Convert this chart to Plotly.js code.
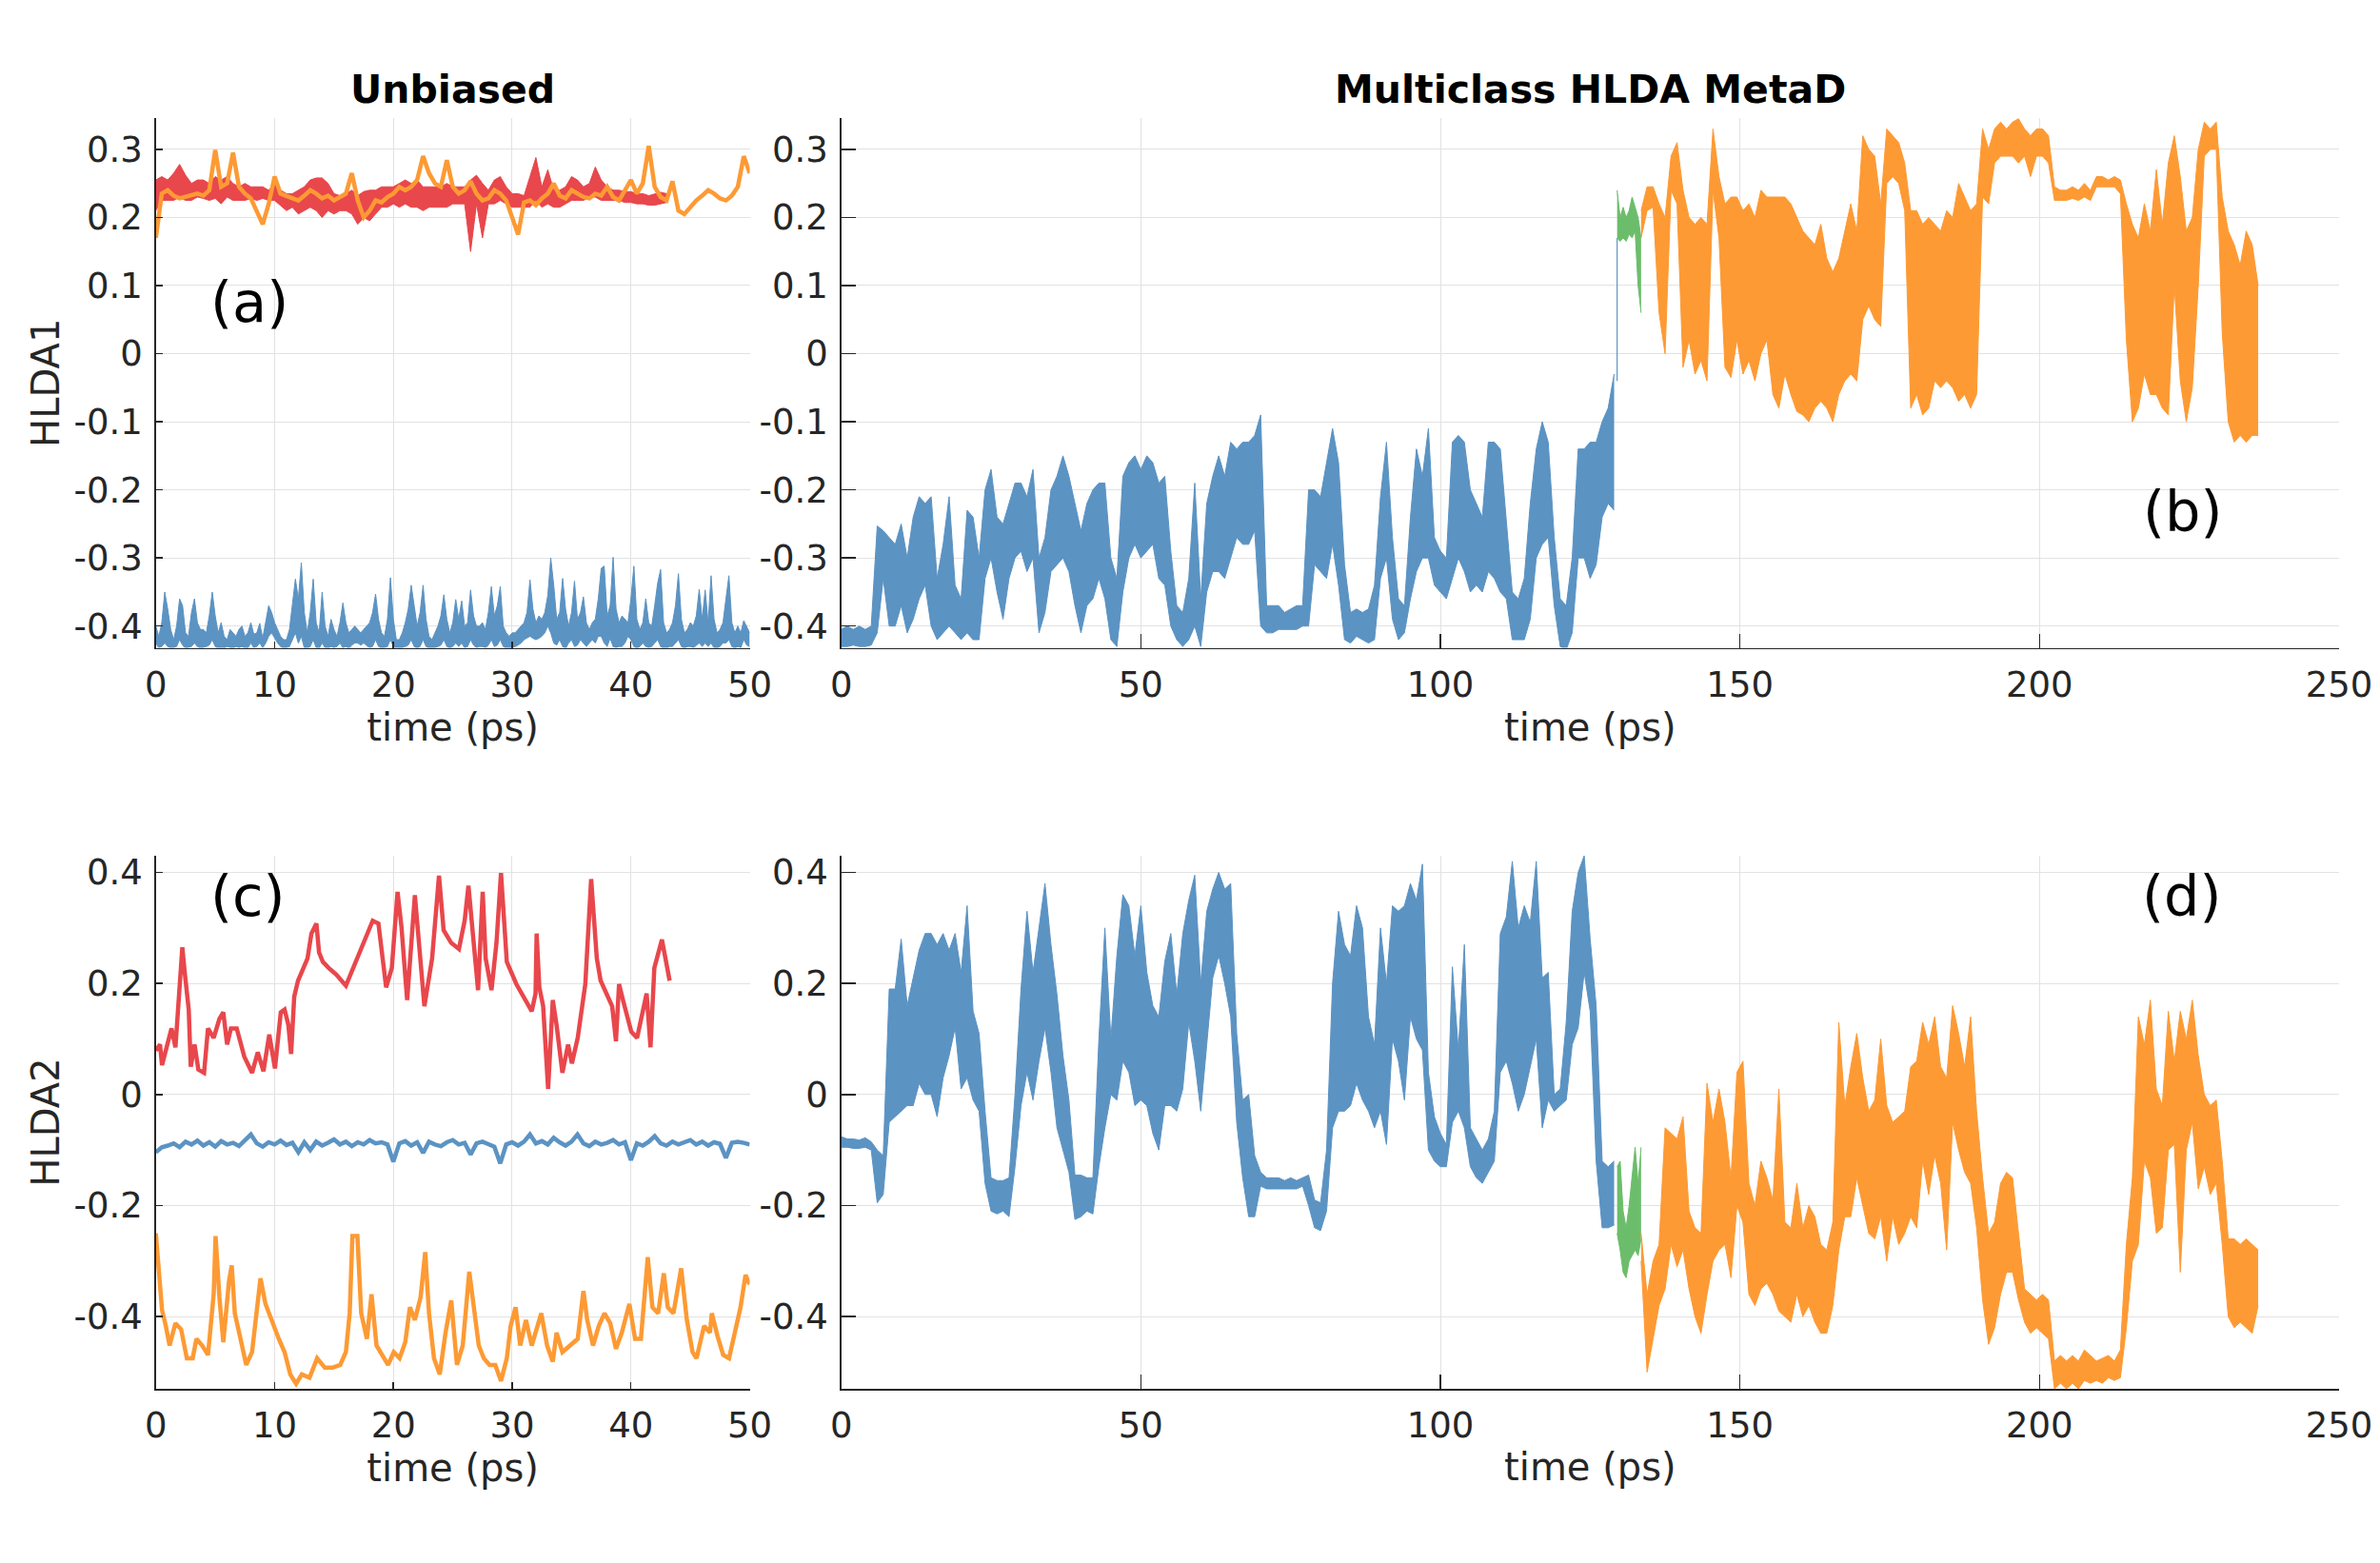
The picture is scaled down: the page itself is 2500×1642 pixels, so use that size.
<!DOCTYPE html>
<html>
<head>
<meta charset="utf-8">
<script src="https://cdn.plot.ly/plotly-3.0.1.min.js"></script>
<style>html,body{margin:0;padding:0;background:#fff}#chart{width:2500px;height:1642px}</style>
</head>
<body>
<div id="chart"></div>
<script>
// ---------------- DATA ----------------
// Panel (a): Unbiased, HLDA1
const aBlueStep = 0.25; // ps
const aBlueHi = [-0.400,-0.415,-0.395,-0.350,-0.375,-0.405,-0.420,-0.400,-0.360,-0.370,
 -0.410,-0.415,-0.380,-0.360,-0.395,-0.405,-0.405,-0.410,-0.385,-0.350,
 -0.385,-0.410,-0.395,-0.415,-0.420,-0.405,-0.410,-0.415,-0.405,-0.400,
 -0.415,-0.410,-0.395,-0.412,-0.410,-0.396,-0.418,-0.395,-0.370,-0.380,
 -0.395,-0.405,-0.415,-0.420,-0.420,-0.405,-0.370,-0.331,-0.360,-0.307,
 -0.380,-0.410,-0.380,-0.331,-0.395,-0.410,-0.350,-0.400,-0.415,-0.390,
 -0.405,-0.415,-0.395,-0.366,-0.395,-0.410,-0.405,-0.400,-0.405,-0.410,
 -0.405,-0.400,-0.395,-0.380,-0.353,-0.390,-0.410,-0.415,-0.390,-0.329,
 -0.390,-0.420,-0.420,-0.410,-0.395,-0.375,-0.340,-0.370,-0.400,-0.380,
 -0.340,-0.390,-0.415,-0.420,-0.410,-0.400,-0.385,-0.354,-0.390,-0.410,
 -0.395,-0.361,-0.390,-0.363,-0.400,-0.395,-0.347,-0.385,-0.400,-0.400,
 -0.395,-0.405,-0.380,-0.342,-0.385,-0.370,-0.342,-0.400,-0.410,-0.415,
 -0.410,-0.410,-0.405,-0.400,-0.395,-0.380,-0.332,-0.375,-0.395,-0.385,
 -0.390,-0.380,-0.355,-0.300,-0.340,-0.390,-0.380,-0.330,-0.375,-0.400,
 -0.380,-0.334,-0.390,-0.380,-0.357,-0.395,-0.405,-0.395,-0.390,-0.360,
 -0.315,-0.312,-0.385,-0.370,-0.299,-0.375,-0.395,-0.385,-0.390,-0.395,
 -0.360,-0.312,-0.390,-0.405,-0.395,-0.360,-0.395,-0.400,-0.370,-0.337,
 -0.317,-0.395,-0.410,-0.405,-0.395,-0.370,-0.323,-0.390,-0.410,-0.405,
 -0.395,-0.400,-0.385,-0.346,-0.390,-0.347,-0.395,-0.326,-0.390,-0.410,
 -0.405,-0.395,-0.360,-0.326,-0.395,-0.410,-0.400,-0.410,-0.392,-0.400,
 -0.410];
const aBlueLo = [-0.425,-0.432,-0.43,-0.425,-0.43,-0.433,-0.432,-0.43,-0.42,-0.428,-0.433,-0.432,-0.43,-0.425,-0.43,-0.433,
 -0.432,-0.43,-0.428,-0.42,-0.43,-0.433,-0.432,-0.433,-0.43,-0.432,-0.433,-0.43,-0.432,-0.43,-0.433,-0.432,
 -0.425,-0.432,-0.43,-0.425,-0.432,-0.425,-0.415,-0.41,-0.418,-0.425,-0.43,-0.433,-0.432,-0.43,-0.42,-0.41,
 -0.425,-0.415,-0.432,-0.433,-0.43,-0.42,-0.432,-0.433,-0.425,-0.432,-0.433,-0.43,-0.432,-0.43,-0.425,-0.432,
 -0.43,-0.433,-0.428,-0.425,-0.425,-0.428,-0.425,-0.428,-0.432,-0.43,-0.42,-0.43,-0.433,-0.432,-0.43,-0.42,
 -0.43,-0.433,-0.433,-0.432,-0.43,-0.428,-0.42,-0.43,-0.433,-0.43,-0.42,-0.43,-0.433,-0.433,-0.432,-0.43,
 -0.428,-0.42,-0.43,-0.433,-0.43,-0.425,-0.43,-0.425,-0.432,-0.43,-0.42,-0.428,-0.432,-0.43,-0.43,-0.432,
 -0.428,-0.42,-0.43,-0.428,-0.42,-0.43,-0.433,-0.433,-0.432,-0.43,-0.428,-0.425,-0.42,-0.418,-0.415,-0.418,
 -0.42,-0.418,-0.415,-0.41,-0.40,-0.41,-0.425,-0.428,-0.42,-0.43,-0.433,-0.425,-0.42,-0.43,-0.428,-0.42,
 -0.425,-0.43,-0.425,-0.42,-0.425,-0.415,-0.415,-0.425,-0.43,-0.418,-0.43,-0.432,-0.43,-0.43,-0.425,-0.415,
 -0.42,-0.43,-0.433,-0.43,-0.425,-0.43,-0.432,-0.43,-0.425,-0.42,-0.43,-0.433,-0.433,-0.43,-0.43,-0.425,
 -0.42,-0.43,-0.433,-0.43,-0.43,-0.432,-0.428,-0.425,-0.43,-0.425,-0.43,-0.425,-0.432,-0.433,-0.43,-0.425,
 -0.425,-0.42,-0.43,-0.433,-0.43,-0.432,-0.42,-0.428,-0.43];

const aRedStep = 0.5;
const aRedHi = [0.255,0.26,0.255,0.265,0.278,0.262,0.25,0.255,0.255,0.25,
 0.26,0.255,0.26,0.25,0.245,0.25,0.245,0.245,0.245,0.24,
 0.25,0.24,0.235,0.235,0.24,0.245,0.255,0.258,0.258,0.25,
 0.235,0.232,0.235,0.24,0.232,0.238,0.24,0.24,0.245,0.245,
 0.245,0.25,0.255,0.25,0.255,0.245,0.245,0.245,0.245,0.25,
 0.245,0.245,0.245,0.255,0.262,0.25,0.24,0.255,0.26,0.245,
 0.235,0.235,0.232,0.26,0.288,0.245,0.27,0.24,0.24,0.245,
 0.26,0.255,0.245,0.25,0.274,0.255,0.245,0.24,0.24,0.238,
 0.238,0.235,0.235,0.232,0.235,0.237,0.235];
const aRedLo = [0.21,0.225,0.225,0.225,0.23,0.225,0.225,0.23,0.228,0.225,
 0.228,0.22,0.23,0.225,0.225,0.225,0.228,0.225,0.228,0.225,
 0.225,0.218,0.21,0.215,0.205,0.21,0.215,0.21,0.2,0.21,
 0.205,0.21,0.21,0.205,0.19,0.2,0.195,0.205,0.215,0.215,
 0.22,0.215,0.22,0.215,0.215,0.21,0.215,0.215,0.215,0.215,
 0.22,0.22,0.22,0.15,0.22,0.17,0.22,0.22,0.225,0.22,
 0.215,0.215,0.215,0.215,0.225,0.215,0.22,0.215,0.215,0.22,
 0.225,0.225,0.225,0.23,0.23,0.225,0.225,0.225,0.225,0.222,
 0.222,0.22,0.22,0.218,0.218,0.22,0.222];

const aOrangeStep = 0.5;
const aOrange = [0.17,0.235,0.24,0.232,0.228,0.23,0.232,0.235,0.232,0.24,
 0.299,0.245,0.25,0.295,0.245,0.235,0.228,0.21,0.19,0.22,
 0.26,0.235,0.232,0.228,0.225,0.232,0.24,0.235,0.228,0.232,
 0.225,0.23,0.235,0.265,0.225,0.2,0.21,0.225,0.222,0.23,
 0.235,0.245,0.24,0.245,0.255,0.29,0.265,0.25,0.245,0.284,
 0.245,0.235,0.24,0.253,0.235,0.225,0.228,0.24,0.235,0.225,
 0.2,0.175,0.222,0.225,0.218,0.228,0.235,0.25,0.232,0.228,
 0.24,0.235,0.23,0.228,0.235,0.232,0.245,0.23,0.225,0.24,
 0.255,0.235,0.25,0.305,0.245,0.23,0.225,0.253,0.21,0.205,
 0.215,0.225,0.232,0.24,0.235,0.228,0.225,0.232,0.245,0.29,
 0.265];

// Panel (b): Multiclass HLDA MetaD, HLDA1
const bBlueHi = [-0.405,-0.40,-0.405,-0.40,-0.405,-0.40,-0.253,-0.26,-0.27,-0.28,
 -0.25,-0.30,-0.24,-0.21,-0.22,-0.21,-0.33,-0.28,-0.21,-0.34,
 -0.36,-0.23,-0.24,-0.30,-0.20,-0.17,-0.24,-0.25,-0.22,-0.19,
 -0.19,-0.21,-0.17,-0.30,-0.27,-0.20,-0.18,-0.15,-0.18,-0.22,
 -0.26,-0.22,-0.20,-0.19,-0.19,-0.30,-0.33,-0.18,-0.16,-0.15,
 -0.17,-0.15,-0.16,-0.19,-0.18,-0.29,-0.37,-0.38,-0.33,-0.19,
 -0.36,-0.22,-0.18,-0.15,-0.18,-0.13,-0.14,-0.13,-0.13,-0.12,
 -0.09,-0.37,-0.37,-0.37,-0.38,-0.375,-0.37,-0.37,-0.20,-0.20,
 -0.21,-0.16,-0.11,-0.16,-0.31,-0.38,-0.375,-0.38,-0.375,-0.34,
 -0.21,-0.13,-0.27,-0.36,-0.37,-0.24,-0.14,-0.18,-0.11,-0.27,
 -0.29,-0.30,-0.13,-0.12,-0.13,-0.20,-0.22,-0.24,-0.13,-0.13,
 -0.14,-0.25,-0.35,-0.36,-0.33,-0.22,-0.14,-0.10,-0.13,-0.27,
 -0.36,-0.37,-0.30,-0.14,-0.14,-0.13,-0.13,-0.10,-0.08,-0.03];
const bBlueLo = [-0.43,-0.43,-0.428,-0.43,-0.43,-0.428,-0.41,-0.33,-0.40,-0.40,
 -0.37,-0.41,-0.39,-0.36,-0.34,-0.40,-0.42,-0.41,-0.40,-0.41,
 -0.42,-0.41,-0.42,-0.42,-0.33,-0.30,-0.35,-0.39,-0.33,-0.30,
 -0.29,-0.32,-0.30,-0.41,-0.38,-0.32,-0.31,-0.30,-0.32,-0.37,
 -0.41,-0.37,-0.36,-0.33,-0.36,-0.42,-0.43,-0.35,-0.30,-0.28,
 -0.30,-0.29,-0.28,-0.33,-0.34,-0.40,-0.42,-0.43,-0.42,-0.40,
 -0.43,-0.35,-0.32,-0.32,-0.33,-0.30,-0.27,-0.28,-0.28,-0.26,
 -0.40,-0.41,-0.41,-0.405,-0.405,-0.405,-0.405,-0.40,-0.40,-0.31,
 -0.32,-0.33,-0.28,-0.34,-0.42,-0.425,-0.415,-0.42,-0.425,-0.42,
 -0.33,-0.30,-0.39,-0.42,-0.41,-0.36,-0.32,-0.30,-0.30,-0.34,
 -0.35,-0.36,-0.33,-0.30,-0.32,-0.35,-0.34,-0.35,-0.32,-0.33,
 -0.35,-0.36,-0.42,-0.42,-0.42,-0.39,-0.30,-0.28,-0.27,-0.37,
 -0.43,-0.435,-0.41,-0.30,-0.30,-0.33,-0.31,-0.24,-0.22,-0.23];
const bJumpT = [129.5, 129.5];
const bJumpV = [-0.04, 0.17];
const bGreenHi = [0.24,0.20,0.215,0.20,0.21,0.23,0.215,0.20,0.17];
const bGreenLo = [0.17,0.165,0.17,0.165,0.175,0.17,0.18,0.10,0.06];
const bOrangeHi = [0.21,0.245,0.245,0.22,0.20,0.29,0.31,0.24,0.20,0.19,
 0.20,0.19,0.33,0.26,0.22,0.23,0.23,0.21,0.22,0.20,
 0.24,0.23,0.23,0.23,0.23,0.22,0.20,0.18,0.17,0.16,
 0.19,0.14,0.12,0.14,0.18,0.22,0.18,0.32,0.30,0.29,
 0.22,0.33,0.32,0.31,0.28,0.21,0.21,0.19,0.20,0.19,
 0.18,0.21,0.20,0.25,0.23,0.21,0.22,0.33,0.30,0.33,
 0.34,0.33,0.34,0.345,0.33,0.32,0.33,0.33,0.32,0.245,
 0.24,0.24,0.245,0.24,0.25,0.24,0.26,0.26,0.255,0.26,
 0.255,0.22,0.19,0.17,0.22,0.18,0.27,0.19,0.28,0.32,
 0.26,0.18,0.20,0.30,0.34,0.33,0.34,0.23,0.18,0.16,
 0.13,0.18,0.16,0.10];
const bOrangeLo = [0.17,0.21,0.215,0.06,0.0,0.24,0.22,-0.02,0.02,-0.03,
 -0.01,-0.04,0.24,0.17,-0.02,-0.035,0.02,-0.03,-0.01,-0.04,
 0.0,0.02,-0.06,-0.08,-0.03,-0.06,-0.085,-0.09,-0.10,-0.08,
 -0.07,-0.08,-0.10,-0.06,-0.04,-0.03,-0.04,0.05,0.07,0.05,
 0.04,0.25,0.26,0.25,0.21,-0.08,-0.06,-0.09,-0.08,-0.04,
 -0.05,-0.04,-0.05,-0.07,-0.06,-0.08,-0.06,0.23,0.22,0.28,
 0.29,0.29,0.29,0.28,0.29,0.26,0.29,0.29,0.28,0.225,
 0.225,0.225,0.228,0.225,0.23,0.225,0.245,0.245,0.245,0.245,
 0.235,0.02,-0.10,-0.08,-0.03,-0.06,-0.06,-0.08,-0.09,0.10,
 -0.04,-0.10,-0.05,0.10,0.29,0.30,0.30,0.03,-0.10,-0.13,
 -0.12,-0.13,-0.12,-0.12];

// Panel (c): Unbiased, HLDA2
const cRedT = [0.0,0.35,0.52,1.0,1.32,1.65,1.97,2.23,2.45,2.77,2.94,3.26,3.58,4.06,4.39,4.87,5.35,5.68,6.0,6.32,
 6.81,7.13,7.45,8.1,8.58,9.06,9.55,10.03,10.52,10.84,11.16,11.39,11.65,11.97,12.45,12.77,13.1,13.52,13.74,14.06,
 14.55,15.19,16.0,17.13,18.26,18.74,19.39,19.87,20.35,20.68,21.16,21.81,22.13,22.61,23.26,23.84,24.23,24.87,25.52,26.0,
 26.32,26.65,27.13,27.52,27.77,28.26,28.68,29.06,29.55,30.35,31.16,31.65,31.97,32.06,32.29,32.61,33.03,33.42,33.74,34.23,
 34.71,35.03,35.52,36.16,36.65,37.13,37.45,37.94,38.42,38.74,39.0,39.39,40.03,40.52,41.0,41.32,41.65,41.97,42.61,42.94,43.26];
const cRedV = [0.079,0.09,0.053,0.096,0.119,0.085,0.176,0.265,0.216,0.153,0.05,0.09,0.045,0.039,0.119,0.102,0.136,0.148,0.09,0.119,
 0.119,0.096,0.068,0.039,0.076,0.042,0.108,0.047,0.148,0.153,0.125,0.073,0.176,0.205,0.228,0.245,0.29,0.308,0.256,0.239,
 0.228,0.216,0.196,0.256,0.313,0.308,0.193,0.228,0.365,0.302,0.17,0.359,0.285,0.159,0.245,0.394,0.296,0.273,0.262,0.313,
 0.376,0.302,0.188,0.365,0.245,0.188,0.273,0.399,0.239,0.199,0.17,0.15,0.182,0.29,0.193,0.159,0.01,0.17,0.125,0.039,
 0.09,0.056,0.102,0.199,0.388,0.245,0.205,0.182,0.159,0.096,0.199,0.165,0.113,0.102,0.148,0.182,0.085,0.228,0.279,0.245,0.205];
const cBlueStep = 0.5;
const cBlue = [-0.104,-0.095,-0.092,-0.088,-0.095,-0.085,-0.09,-0.083,-0.092,-0.086,
 -0.094,-0.084,-0.09,-0.087,-0.093,-0.082,-0.072,-0.088,-0.094,-0.086,
 -0.09,-0.083,-0.091,-0.087,-0.104,-0.086,-0.10,-0.085,-0.092,-0.087,
 -0.081,-0.09,-0.085,-0.093,-0.086,-0.09,-0.082,-0.088,-0.086,-0.09,
 -0.121,-0.088,-0.084,-0.092,-0.086,-0.105,-0.085,-0.09,-0.093,-0.086,
 -0.082,-0.09,-0.087,-0.108,-0.088,-0.085,-0.09,-0.094,-0.124,-0.09,
 -0.086,-0.092,-0.085,-0.072,-0.088,-0.084,-0.09,-0.078,-0.086,-0.092,
 -0.085,-0.072,-0.088,-0.093,-0.085,-0.09,-0.087,-0.082,-0.09,-0.086,
 -0.118,-0.088,-0.092,-0.085,-0.075,-0.088,-0.092,-0.085,-0.09,-0.087,
 -0.082,-0.09,-0.085,-0.092,-0.086,-0.089,-0.114,-0.087,-0.085,-0.087,
 -0.09];
const cOrangeT = [0,0.19,0.52,0.84,1.16,1.65,2.13,2.61,3.1,3.42,3.9,4.39,4.87,5.03,5.35,5.68,6.16,6.39,6.65,7.13,
 7.61,8.1,8.58,8.81,9.23,9.71,10.35,10.84,11.32,11.81,12.29,12.94,13.58,14.23,14.87,15.52,16.0,16.32,16.55,16.97,
 17.29,17.77,18.16,18.58,19.06,19.55,20.03,20.52,21.0,21.39,21.81,22.29,22.68,23.0,23.42,23.9,24.39,24.87,25.35,25.84,
 26.39,26.81,27.19,27.61,28.1,28.58,29.06,29.55,29.87,30.29,30.68,31.16,31.65,32.45,32.94,33.42,33.74,34.23,34.87,35.52,
 36.0,36.32,36.81,37.29,37.77,38.26,38.74,39.23,39.87,40.35,40.84,41.42,41.81,42.29,42.77,43.1,43.58,44.23,44.71,45.19,
 45.52,46.16,46.65,46.81,47.29,47.77,48.26,48.74,49.23,49.65,50.0];
const cOrangeV = [-0.25,-0.308,-0.388,-0.417,-0.452,-0.412,-0.423,-0.475,-0.475,-0.44,-0.452,-0.469,-0.36,-0.255,-0.365,-0.446,-0.336,-0.308,-0.394,-0.44,
 -0.487,-0.464,-0.371,-0.331,-0.377,-0.406,-0.44,-0.464,-0.504,-0.521,-0.504,-0.51,-0.475,-0.492,-0.492,-0.487,-0.464,-0.394,-0.255,-0.255,
 -0.394,-0.44,-0.36,-0.452,-0.469,-0.487,-0.464,-0.475,-0.446,-0.383,-0.406,-0.365,-0.284,-0.394,-0.475,-0.504,-0.429,-0.371,-0.487,-0.452,
 -0.319,-0.383,-0.452,-0.475,-0.487,-0.487,-0.516,-0.475,-0.417,-0.383,-0.452,-0.406,-0.452,-0.394,-0.452,-0.481,-0.429,-0.464,-0.452,-0.44,
 -0.354,-0.406,-0.452,-0.417,-0.394,-0.412,-0.458,-0.429,-0.377,-0.44,-0.44,-0.293,-0.383,-0.394,-0.322,-0.383,-0.394,-0.313,-0.406,-0.464,
 -0.475,-0.417,-0.429,-0.394,-0.435,-0.469,-0.475,-0.429,-0.383,-0.325,-0.342];

// Panel (d): Multiclass HLDA MetaD, HLDA2
const dBlueHi = [-0.076,-0.08,-0.08,-0.082,-0.078,-0.085,-0.10,-0.11,0.19,0.19,
 0.28,0.16,0.21,0.26,0.29,0.29,0.27,0.29,0.26,0.29,
 0.22,0.34,0.15,0.11,-0.03,-0.15,-0.155,-0.155,-0.15,0.0,
 0.19,0.33,0.22,0.30,0.38,0.27,0.18,0.07,-0.01,-0.145,
 -0.145,-0.15,-0.15,0.10,0.30,0.10,0.25,0.36,0.34,0.25,
 0.34,0.22,0.16,0.14,0.24,0.29,0.18,0.29,0.35,0.395,
 0.20,0.33,0.37,0.40,0.37,0.38,0.11,-0.01,0.0,-0.11,
 -0.14,-0.15,-0.15,-0.15,-0.155,-0.15,-0.155,-0.15,-0.145,-0.19,
 -0.195,-0.10,0.20,0.33,0.27,0.25,0.34,0.30,0.14,0.09,
 0.30,0.20,0.34,0.33,0.34,0.38,0.35,0.415,0.04,-0.04,
 -0.07,-0.09,0.23,0.08,0.27,-0.06,-0.08,-0.10,-0.08,-0.03,
 0.29,0.32,0.42,0.30,0.34,0.31,0.42,0.21,0.22,0.0,
 0.01,0.13,0.33,0.40,0.43,0.28,0.16,-0.12,-0.13,-0.12];
const dBlueLo = [-0.095,-0.095,-0.097,-0.097,-0.095,-0.10,-0.195,-0.18,-0.05,-0.04,
 -0.03,-0.02,-0.02,0.02,0.0,0.0,-0.04,0.03,0.07,0.12,
 0.01,0.03,-0.01,-0.03,-0.16,-0.21,-0.215,-0.21,-0.22,-0.13,
 -0.02,0.04,-0.01,0.06,0.12,0.04,-0.06,-0.10,-0.14,-0.225,
 -0.22,-0.21,-0.215,-0.13,-0.06,0.0,-0.01,0.06,0.04,-0.02,
 -0.01,-0.02,-0.07,-0.10,-0.02,-0.02,-0.03,0.01,0.13,0.06,
 -0.03,0.09,0.21,0.25,0.20,0.14,-0.05,-0.15,-0.22,-0.22,
 -0.165,-0.17,-0.17,-0.17,-0.17,-0.17,-0.17,-0.165,-0.20,-0.24,
 -0.245,-0.21,-0.06,-0.03,-0.03,-0.02,0.02,-0.01,-0.03,-0.06,
 -0.03,-0.09,0.10,0.06,-0.01,0.14,0.10,0.08,-0.10,-0.12,
 -0.13,-0.13,-0.05,-0.03,-0.06,-0.13,-0.15,-0.16,-0.14,-0.12,
 0.04,0.06,0.02,-0.03,0.0,0.05,0.10,-0.06,-0.01,-0.03,
 -0.02,-0.01,0.09,0.12,0.22,0.15,-0.12,-0.24,-0.24,-0.235];
const dGreenHi = [-0.13,-0.12,-0.21,-0.24,-0.20,-0.15,-0.095,-0.16,-0.095];
const dGreenLo = [-0.25,-0.28,-0.32,-0.33,-0.30,-0.29,-0.28,-0.29,-0.26];
const dOrangeHi = [-0.25,-0.36,-0.30,-0.27,-0.06,-0.07,-0.08,-0.04,-0.21,-0.24,
 -0.25,0.02,-0.05,0.01,-0.05,-0.15,0.04,0.06,-0.16,-0.20,
 -0.12,-0.15,-0.19,0.01,-0.23,-0.24,-0.16,-0.24,-0.20,-0.22,
 -0.27,-0.28,-0.23,0.13,-0.02,0.05,0.11,0.03,-0.03,-0.01,
 0.10,-0.02,-0.05,-0.04,-0.03,0.05,0.06,0.13,0.09,0.14,
 0.05,0.03,0.16,0.11,0.05,0.14,-0.03,-0.15,-0.25,-0.23,
 -0.16,-0.14,-0.15,-0.25,-0.35,-0.36,-0.37,-0.36,-0.37,-0.48,
 -0.47,-0.48,-0.47,-0.48,-0.46,-0.47,-0.48,-0.475,-0.47,-0.48,
 -0.46,-0.27,-0.15,0.14,0.09,0.17,0.01,-0.02,0.15,0.06,
 0.15,0.10,0.17,0.07,0.0,-0.02,-0.01,-0.12,-0.26,-0.26,
 -0.27,-0.26,-0.27,-0.28];
const dOrangeLo = [-0.30,-0.50,-0.44,-0.38,-0.35,-0.27,-0.31,-0.28,-0.35,-0.40,
 -0.43,-0.36,-0.30,-0.28,-0.27,-0.33,-0.20,-0.23,-0.36,-0.38,
 -0.35,-0.34,-0.36,-0.39,-0.40,-0.41,-0.36,-0.40,-0.38,-0.41,
 -0.43,-0.43,-0.38,-0.28,-0.22,-0.22,-0.15,-0.20,-0.25,-0.26,
 -0.22,-0.30,-0.22,-0.27,-0.25,-0.22,-0.24,-0.12,-0.18,-0.11,
 -0.16,-0.28,-0.05,-0.10,-0.14,-0.16,-0.24,-0.37,-0.45,-0.42,
 -0.36,-0.32,-0.32,-0.37,-0.41,-0.43,-0.42,-0.43,-0.44,-0.53,
 -0.52,-0.53,-0.52,-0.53,-0.515,-0.52,-0.515,-0.52,-0.51,-0.515,
 -0.51,-0.42,-0.30,-0.27,-0.12,-0.15,-0.25,-0.24,-0.10,-0.09,
 -0.32,-0.10,-0.05,-0.17,-0.13,-0.18,-0.16,-0.27,-0.40,-0.42,
 -0.41,-0.42,-0.43,-0.38];

// series start times / sampling steps (ps)
const bBlueStart = 0, bStep = 1, greenStart = 129.5, greenStep = 0.5, orangeStart = 133.5;

// tick labels
const hlda1Ticks = [-0.4,-0.3,-0.2,-0.1,0,0.1,0.2,0.3];
const hlda1Text = ['-0.4','-0.3','-0.2','-0.1','0','0.1','0.2','0.3'];
const hlda2Ticks = [-0.4,-0.2,0,0.2,0.4];
const hlda2Text = ['-0.4','-0.2','0','0.2','0.4'];
const shortTimeTicks = [0,10,20,30,40,50];
const longTimeTicks = [0,50,100,150,200,250];

// ---------------- STYLE ----------------
const BLUE = '#5B93C3', RED = '#E8474C', ORANGE = '#FD9A34', GREEN = '#6CBD6B';
const FONT = 'DejaVu Sans';
const INK = '#262626';

function band(lo, hi, x0, dx, color, xa, ya) {
  const base = {x0: x0, dx: dx, mode: 'lines', xaxis: xa, yaxis: ya, hoverinfo: 'skip', showlegend: false};
  return [
    Object.assign({}, base, {y: lo, line: {color: color, width: 1}}),
    Object.assign({}, base, {y: hi, line: {color: color, width: 1}, fill: 'tonexty', fillcolor: color})
  ];
}
function line(x, y, color, w, xa, ya) {
  return {x: x, y: y, mode: 'lines', line: {color: color, width: w}, xaxis: xa, yaxis: ya, hoverinfo: 'skip', showlegend: false};
}
function lineStep(y, x0, dx, color, w, xa, ya) {
  return {x0: x0, dx: dx, y: y, mode: 'lines', line: {color: color, width: w}, xaxis: xa, yaxis: ya, hoverinfo: 'skip', showlegend: false};
}

const traces = [].concat(
  // (a)
  band(aBlueLo, aBlueHi, 0, aBlueStep, BLUE, 'x', 'y'),
  band(aRedLo, aRedHi, 0, aRedStep, RED, 'x', 'y'),
  [lineStep(aOrange, 0, aOrangeStep, ORANGE, 4.5, 'x', 'y')],
  // (b)
  band(bBlueLo, bBlueHi, bBlueStart, bStep, BLUE, 'x2', 'y2'),
  [line(bJumpT, bJumpV, BLUE, 1.2, 'x2', 'y2')],
  band(bGreenLo, bGreenHi, greenStart, greenStep, GREEN, 'x2', 'y2'),
  band(bOrangeLo, bOrangeHi, orangeStart, bStep, ORANGE, 'x2', 'y2'),
  // (c)
  [line(cRedT, cRedV, RED, 4.5, 'x3', 'y3')],
  [lineStep(cBlue, 0, cBlueStep, BLUE, 4.5, 'x3', 'y3')],
  [line(cOrangeT, cOrangeV, ORANGE, 4.5, 'x3', 'y3')],
  // (d)
  band(dBlueLo, dBlueHi, bBlueStart, bStep, BLUE, 'x4', 'y4'),
  band(dGreenLo, dGreenHi, greenStart, greenStep, GREEN, 'x4', 'y4'),
  band(dOrangeLo, dOrangeHi, orangeStart, bStep, ORANGE, 'x4', 'y4')
);

// ---------------- LAYOUT ----------------
const W = 2500, H = 1642;
const fx = p => p / W, fy = p => 1 - p / H;
const xDomA = [fx(163.7), fx(787.5)], xDomB = [fx(883.7), fx(2457)];
const yDomTop = [fy(680.6), fy(124)], yDomBot = [fy(1459), fy(899)];

function xAxis(dom, range, ticks, anchor, tl, so) {
  return {domain: dom, range: range, anchor: anchor, tickmode: 'array', tickvals: ticks, ticktext: ticks.map(String),
    showline: true, linecolor: INK, linewidth: 1.5, mirror: false, ticks: 'inside', ticklen: tl, tickwidth: 1.5, tickcolor: INK,
    showgrid: true, gridcolor: '#E2E2E2', gridwidth: 1, zeroline: false,
    tickfont: {family: FONT, size: 37, color: INK}, ticklabelstandoff: 5,
    title: {text: 'time (ps)', font: {family: FONT, size: 40, color: INK}, standoff: so}, fixedrange: true};
}
function yAxis(dom, range, vals, text, anchor, tl, title) {
  const ax = {domain: dom, range: range, anchor: anchor, tickmode: 'array', tickvals: vals, ticktext: text,
    showline: true, linecolor: INK, linewidth: 1.5, mirror: false, ticks: 'inside', ticklen: tl, tickwidth: 1.5, tickcolor: INK,
    showgrid: true, gridcolor: '#E2E2E2', gridwidth: 1, zeroline: false,
    tickfont: {family: FONT, size: 37, color: INK}, ticklabelstandoff: 5, fixedrange: true};
  if (title) ax.title = {text: title, font: {family: FONT, size: 40, color: INK}, standoff: 2};
  return ax;
}

const rangeTop = [-0.432, 0.346], rangeBot = [-0.53, 0.43];

const layout = {
  width: W, height: H, margin: {l: 0, r: 0, t: 0, b: 0}, paper_bgcolor: '#fff', plot_bgcolor: '#fff',
  showlegend: false,
  xaxis: xAxis(xDomA, [0, 50], shortTimeTicks, 'y', 7, 6),
  yaxis: yAxis(yDomTop, rangeTop, hlda1Ticks, hlda1Text, 'x', 7, 'HLDA1'),
  xaxis2: xAxis(xDomB, [0, 250], longTimeTicks, 'y2', 15, 10),
  yaxis2: yAxis(yDomTop, rangeTop, hlda1Ticks, hlda1Text, 'x2', 15, null),
  xaxis3: xAxis(xDomA, [0, 50], shortTimeTicks, 'y3', 7, 6),
  yaxis3: yAxis(yDomBot, rangeBot, hlda2Ticks, hlda2Text, 'x3', 7, 'HLDA2'),
  xaxis4: xAxis(xDomB, [0, 250], longTimeTicks, 'y4', 15, 9),
  yaxis4: yAxis(yDomBot, rangeBot, hlda2Ticks, hlda2Text, 'x4', 15, null),
  annotations: [
    {text: '<b>Unbiased</b>', xref: 'paper', yref: 'paper', x: fx(475.6), y: fy(94), xanchor: 'center', yanchor: 'middle', showarrow: false, font: {family: FONT, size: 41, color: '#000'}},
    {text: '<b>Multiclass HLDA MetaD</b>', xref: 'paper', yref: 'paper', x: fx(1670), y: fy(94), xanchor: 'center', yanchor: 'middle', showarrow: false, font: {family: FONT, size: 41, color: '#000'}},
    {text: '(a)', xref: 'paper', yref: 'paper', x: fx(262), y: fy(318), xanchor: 'center', yanchor: 'middle', showarrow: false, font: {family: FONT, size: 59, color: '#000'}},
    {text: '(b)', xref: 'paper', yref: 'paper', x: fx(2293), y: fy(538), xanchor: 'center', yanchor: 'middle', showarrow: false, font: {family: FONT, size: 59, color: '#000'}},
    {text: '(c)', xref: 'paper', yref: 'paper', x: fx(260), y: fy(942), xanchor: 'center', yanchor: 'middle', showarrow: false, font: {family: FONT, size: 59, color: '#000'}},
    {text: '(d)', xref: 'paper', yref: 'paper', x: fx(2292), y: fy(942), xanchor: 'center', yanchor: 'middle', showarrow: false, font: {family: FONT, size: 59, color: '#000'}}
  ]
};

Plotly.newPlot('chart', traces, layout, {staticPlot: true, displayModeBar: false});
</script>
</body>
</html>
